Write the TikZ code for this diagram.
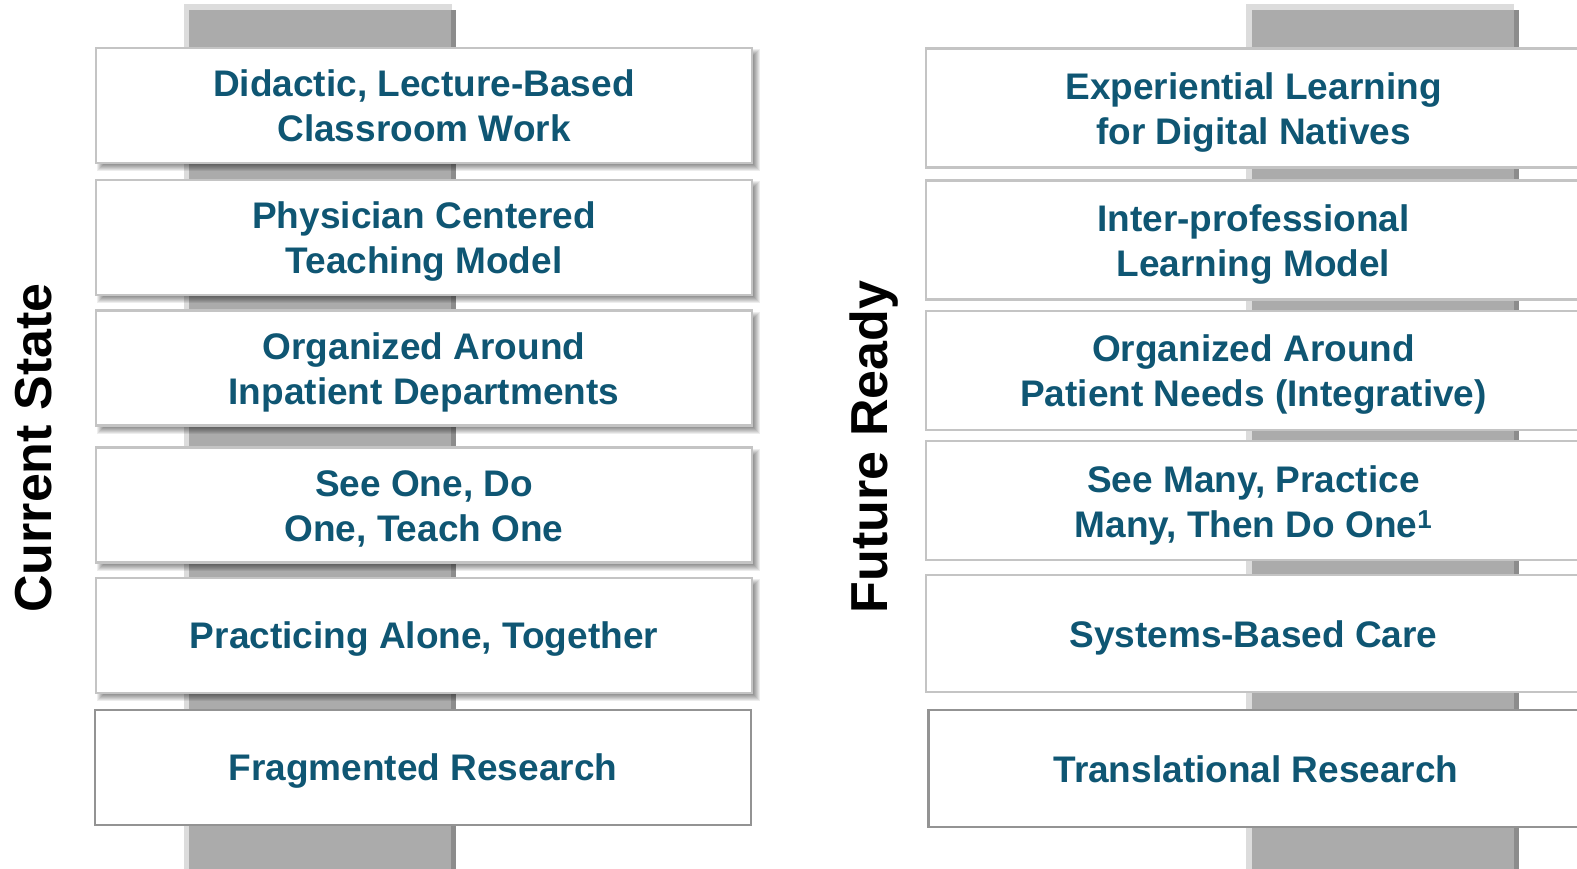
\documentclass[tikz,border=0pt]{standalone}
\usepackage{fontspec}
\setmainfont{Liberation Sans}
\usetikzlibrary{calc}
\definecolor{txt}{HTML}{0F5673}
\definecolor{pillarlight}{HTML}{DCDCDC}
\definecolor{pillarfill}{HTML}{ABABAB}
\definecolor{pillardark}{HTML}{8C8C8C}
\definecolor{boxborder}{HTML}{C4C4C4}
\begin{document}
\begin{tikzpicture}[x=1pt,y=-1pt,
  boxbase/.style={draw=boxborder, line width=2.2pt, fill=white, inner sep=0pt},
  lbox/.style={boxbase, minimum width=656pt, minimum height=115pt},
  rbox/.style={boxbase, minimum width=655pt, minimum height=119pt},
  resbox/.style={draw=gray!85, line width=2.6pt},
  boxtext/.style={align=center, text=txt, inner sep=0pt,
    font=\fontsize{37}{45}\selectfont\bfseries},
  sidelabel/.style={rotate=90, anchor=base, text=black,
    font=\fontsize{52}{60}\selectfont\bfseries}]
\useasboundingbox (0,0) rectangle (1577,869);
\fill[white] (0,0) rectangle (1577,869);
% pillars
\fill[pillarlight] (184,4) rectangle (452,869);
\fill[pillarfill] (189,10) rectangle (456,869);
\fill[pillardark] (451,10) rectangle (456,869);
\fill[pillarlight] (1246,4) rectangle (1514,869);
\fill[pillarfill] (1252,10) rectangle (1519,869);
\fill[pillardark] (1514,10) rectangle (1519,869);
% shadows of the left column boxes
\foreach \yc in {105.5,237.5,368,505,635.5}{
  \foreach \r in {-3,-2,-1,0,1,2,3}{
    \fill[black,opacity=0.07] (424-328+4-\r,\yc-57.5+4-\r) rectangle (424+328+5+\r,\yc+57.5+5+\r);
  }
}
% left column boxes
\node[lbox] (l1) at (424,105.5) {};
\node[lbox] (l2) at (424,237.5) {};
\node[lbox] (l3) at (424,368) {};
\node[lbox] (l4) at (424,505) {};
\node[lbox] (l5) at (424,635.5) {};
\node[lbox, resbox] (l6) at (423,767.5) {};
\node[boxtext] (t1) at ($(l1.center)+(0,0)$) {Didactic, Lecture-Based\\Classroom Work};
\node[boxtext] (t2) at ($(l2.center)+(0,4)$) {Physician Centered\\Teaching Model};
\node[boxtext] (t3) at ($(l3.center)+(0,4)$) {Organized Around\\Inpatient Departments};
\node[boxtext] (t4) at ($(l4.center)+(0,4)$) {See One, Do\\One, Teach One};
\node[boxtext] (t5) at ($(l5.center)+(0,4)$) {Practicing Alone, Together};
\node[boxtext] (t6) at ($(l6.center)+(0,4)$) {Fragmented Research};
% right column boxes
\node[rbox] (r1) at (1253.5,108) {};
\node[rbox] (r2) at (1253.5,240) {};
\node[rbox] (r3) at (1253.5,370.5) {};
\node[rbox] (r4) at (1253.5,500.5) {};
\node[rbox, minimum height=117pt] (r5) at (1253.5,633.5) {};
\node[rbox, resbox, minimum height=117pt] (r6) at (1256,768.5) {};
\node[boxtext] (s1) at ($(r1.center)+(0,5)$) {Experiential Learning\\for Digital Natives};
\node[boxtext] (s2) at ($(r2.center)+(0,5)$) {Inter-professional\\Learning Model};
\node[boxtext] (s3) at ($(r3.center)+(0,4)$) {Organized Around\\Patient Needs (Integrative)};
\node[boxtext] (s4) at ($(r4.center)+(0,5)$) {See Many, Practice\\Many, Then Do One\textsuperscript{1}};
\node[boxtext] (s5) at ($(r5.center)+(0,4)$) {Systems-Based Care};
\node[boxtext] (s6) at ($(r6.center)+(0,1)$) {Translational Research};
% side labels
\node[sidelabel] (cs) at (51,448) {Current State};
\node[sidelabel] (fr) at (887,447) {Future Ready};
\end{tikzpicture}
\end{document}
